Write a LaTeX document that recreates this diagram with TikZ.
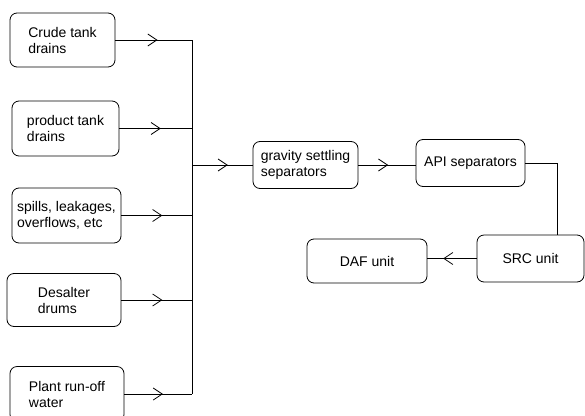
\documentclass[tikz,border=0pt]{standalone}
\usepackage{fontspec}
\setmainfont{Liberation Sans}
\usetikzlibrary{arrows.meta,decorations.markings,calc}

\begin{document}
\begin{tikzpicture}[x=1pt,y=-1pt,line width=0.8pt,
    unit/.style={draw,rounded corners=7pt,align=left,inner sep=0pt,font=\fontsize{14}{16}\selectfont},
    flow/.style={postaction={decorate},decoration={markings,mark=at position #1 with {\arrow{Straight Barb[length=9pt,width=12pt]}}}}]
    \useasboundingbox (0,0) rectangle (585,415);
    \node[unit,minimum width=105,minimum height=54] (crude) at (62.5,40) {Crude tank\\drains};
    \node[unit,minimum width=107,minimum height=55] (product) at (65.5,128.5) {product tank\\drains};
    \node[unit,minimum width=109,minimum height=55] (spills) at (66.5,215.5) {spills, leakages,\\overflows, etc};
    \node[unit,minimum width=114,minimum height=53] (desalter) at (64,300) {Desalter\\drums};
    \node[unit,minimum width=114,minimum height=55] (runoff) at (67,394) {Plant run-off\\water};
    \node[unit,minimum width=105,minimum height=47] (gravity) at (305.5,165) {gravity settling\\separators};
    \node[unit,minimum width=109,minimum height=47] (api) at (470.5,163) {API separators};
    \node[unit,minimum width=107,minimum height=47] (src) at (530.5,258.5) {SRC unit};
    \node[unit,minimum width=120,minimum height=44] (daf) at (367,261) {DAF unit};
    \coordinate (bus) at (192,0);
    \draw[flow=0.55] (crude.east) -- (crude.east -| bus);
    \draw[flow=0.57] (product.east) -- (product.east -| bus);
    \draw[flow=0.58] (spills.east) -- (spills.east -| bus);
    \draw[flow=0.58] (desalter.east) -- (desalter.east -| bus);
    \draw[flow=0.57] (runoff.east) -- (runoff.east -| bus);
    \draw (crude.east -| bus) -- (runoff.east -| bus);
    \draw[flow=0.59] (gravity.west -| bus) -- (gravity.west);
    \draw[flow=0.52] (gravity.east) -- (gravity.east -| api.west);
    \draw (api.east) -| ($(src.north)!0.5!(src.north east)$);
    \draw[flow=0.68] (src.west) -- (src.west -| daf.east);
\end{tikzpicture}
\end{document}
